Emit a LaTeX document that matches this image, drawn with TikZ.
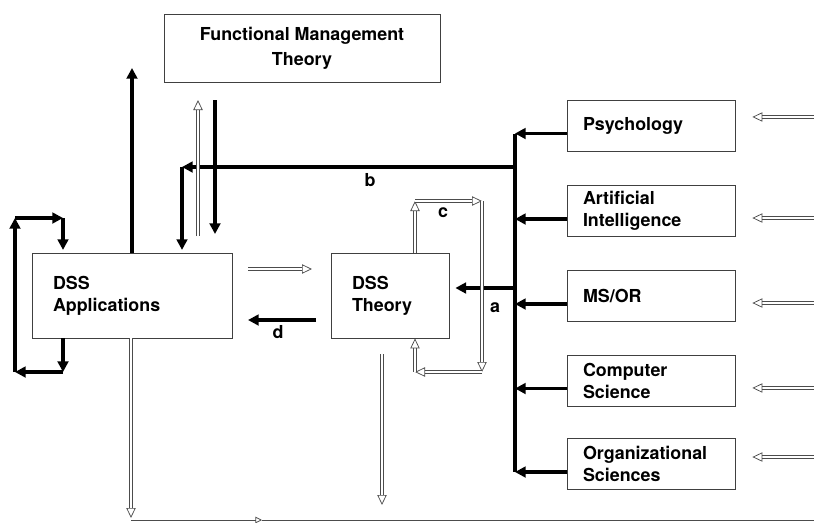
\documentclass[tikz,border=0pt]{standalone}
\usepackage{fontspec}
\setmainfont{TeX Gyre Heros}
\usetikzlibrary{arrows.meta}

\begin{document}
\begin{tikzpicture}[x=0.75pt, y=-0.75pt,
    font=\fontsize{13.4}{16.5}\selectfont\bfseries,
    box/.style={draw=black!75, line width=0.6pt, minimum height=38.25pt, text width=102pt, inner xsep=12pt, align=left},
    bigbox/.style={box, minimum height=63.75pt, inner xsep=15.75pt},
    title/.style={draw=black!75, line width=0.6pt, minimum width=207pt, minimum height=51pt, align=center, font=\fontsize{13.4}{18.75}\selectfont\bfseries},
    arrow/.style={-{Triangle[length=8pt, width=8pt]}, line width=2.7pt},
    hollow/.style={draw=black!70, line width=0.55pt, double, double distance=1.9pt, -{Triangle[open, length=7.5pt, width=7pt, line width=0.55pt]}},
    lbl/.style={inner sep=0pt}
  ]
  \useasboundingbox (0,0) rectangle (814,522);

  % Theory on top
  \node[title] (fmt) at (302,48) {Functional Management\\Theory};

  % DSS boxes
  \node[bigbox, text width=118.5pt] (apps) at (132,295.5) {DSS\\Applications};
  \node[bigbox, text width=57pt] (theory) at (390,295.5) {DSS\\Theory};

  % Reference disciplines
  \node[box] (psy) at (651,125.5) {Psychology};
  \node[box] (ai) at (651,211) {Artificial\\Intelligence};
  \node[box] (msor) at (651,296) {MS/OR};
  \node[box] (cs) at (651,380.5) {Computer\\Science};
  \node[box] (org) at (651,464) {Organizational\\Sciences};

  % Bus and branch points
  \coordinate (bustop) at (515,133.5);
  \coordinate (busbot) at (515,472);
  \coordinate (bstart) at (515,167);
  \coordinate (bcorner) at (182,167);
  \coordinate (astart) at (515,288);
  \draw[line width=2.7pt] (bustop) -- (busbot);
  \foreach \b in {psy,ai,msor,cs,org}
    \draw[arrow] ([yshift=-6pt]\b.west) -- ([yshift=-6pt]\b.west -| bustop);

  % Inputs from the right
  \foreach \b/\dy in {psy/6.4pt, ai/-5.25pt, msor/-5.25pt, cs/-5.6pt, org/5.25pt}
    \draw[hollow] ([xshift=59.25pt, yshift=\dy]\b.east) -- ([xshift=12.75pt, yshift=\dy]\b.east);

  % a and b
  \draw[arrow] (astart) -- ([xshift=4.5pt]astart -| theory.east);
  \node[lbl] (alab) at (495,308) {a};
  \draw[arrow] (bstart) -- (bcorner);
  \draw[arrow] (bcorner) -- ([yshift=2pt]bcorner |- apps.north);
  \node[lbl] (blab) at (370,180) {b};

  % Applications up to management theory
  \coordinate (uptip) at (132,68);
  \draw[arrow] (apps.north) -- (uptip);
  \coordinate (fu1) at (198,236);
  \coordinate (fu2) at (198,100);
  \coordinate (fd1) at (215,100);
  \coordinate (fd2) at (215,234);
  \draw[hollow] (fu1) -- (fu2);
  \draw[arrow] (fd1) -- (fd2);

  % Feedback loop on applications
  \coordinate (l1) at (63,372);
  \coordinate (l2) at (15,372);
  \coordinate (l3) at (15,218);
  \coordinate (l4) at (63,218);
  \draw[arrow] (apps.south -| l1) -- (l1);
  \draw[arrow] (l1) -- (l2);
  \draw[arrow] (l2) -- (l3);
  \draw[arrow] (l3) -- (l4);
  \draw[arrow] (l4) -- ([yshift=2pt]l4 |- apps.north);

  % Feedback loop c on theory
  \coordinate (c1) at (415,201);
  \coordinate (c2) at (482,201);
  \coordinate (c3) at (482,372);
  \coordinate (c4) at (415,372);
  \draw[hollow] (theory.north -| c1) -- (c1);
  \draw[hollow] (c1) -- (c2);
  \draw[hollow] (c2) -- (c3);
  \draw[hollow] (c3) -- (c4);
  \draw[hollow] (c4) -- (c4 |- theory.south);
  \node[lbl] (clab) at (443,213) {c};

  % Between applications and theory
  \coordinate (m1) at (248,269);
  \coordinate (m2) at (312,269);
  \coordinate (d1) at (316,320);
  \coordinate (d2) at (248,320);
  \draw[hollow] (m1) -- (m2);
  \draw[arrow] (d1) -- (d2);
  \node[lbl] (dlab) at (278,332) {d};

  % Downward outputs
  \coordinate (t1) at (382,354);
  \coordinate (t2) at (382,505);
  \draw[hollow] (t1) -- (t2);
  \coordinate (o1) at (131,518);
  \draw[hollow] (apps.south -| o1) -- (o1);
  \coordinate (bl) at (131,520);
  \coordinate (bm) at (262,520);
  \coordinate (br) at (814,520);
  \draw[draw=black!70, line width=0.6pt, -{Triangle[open, length=5pt, width=5pt]}] (bl) -- (bm);
  \draw[draw=black!70, line width=0.6pt] (bm) -- (br);
\end{tikzpicture}
\end{document}
